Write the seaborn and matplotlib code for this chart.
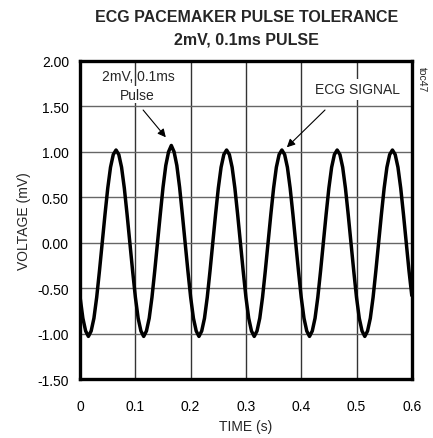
import numpy as np
import pandas as pd
import matplotlib
matplotlib.use("Agg")
import matplotlib.pyplot as plt
import seaborn as sns

# Time axis (s), sampled every 5 ms
time_s = [round(i * 0.005, 3) for i in range(121)]

# ECG signal (mV); pacemaker pulse peak near 0.165 s
voltage_mv = [
    -0.60, -0.83, -0.97, -1.03, -0.97, -0.83, -0.60, -0.31, 0.00, 0.31,
    0.60, 0.83, 0.97, 1.02, 0.97, 0.83, 0.60, 0.31, 0.00, -0.31,
    -0.60, -0.83, -0.97, -1.03, -0.97, -0.83, -0.60, -0.31, 0.00, 0.31,
    0.61, 0.85, 1.00, 1.07, 1.00, 0.85, 0.61, 0.31, 0.00, -0.31,
    -0.60, -0.83, -0.97, -1.03, -0.97, -0.83, -0.60, -0.31, 0.00, 0.31,
    0.60, 0.83, 0.97, 1.02, 0.97, 0.83, 0.60, 0.31, 0.00, -0.31,
    -0.60, -0.83, -0.97, -1.03, -0.97, -0.83, -0.60, -0.31, 0.00, 0.31,
    0.60, 0.83, 0.97, 1.02, 0.97, 0.83, 0.60, 0.31, 0.00, -0.31,
    -0.60, -0.83, -0.97, -1.03, -0.97, -0.83, -0.60, -0.31, 0.00, 0.31,
    0.60, 0.83, 0.97, 1.02, 0.97, 0.83, 0.60, 0.31, 0.00, -0.31,
    -0.60, -0.83, -0.97, -1.03, -0.97, -0.83, -0.60, -0.31, 0.00, 0.31,
    0.60, 0.83, 0.97, 1.02, 0.97, 0.83, 0.60, 0.31, 0.00, -0.31,
    -0.58,
]

x_ticks = [0, 0.1, 0.2, 0.3, 0.4, 0.5, 0.6]
x_labels = ["0", "0.1", "0.2", "0.3", "0.4", "0.5", "0.6"]
y_ticks = [-1.5, -1.0, -0.5, 0.0, 0.5, 1.0, 1.5, 2.0]
y_labels = ["-1.50", "-1.00", "-0.50", "0.00", "0.50", "1.00", "1.50", "2.00"]

df = pd.DataFrame({"time": time_s, "voltage": voltage_mv})

sns.set_style("white")
plt.rcParams['font.family'] = ['Liberation Sans', 'DejaVu Sans']

fig = plt.figure(figsize=(4.33, 4.39), dpi=100)
ax = fig.add_axes([0.185, 0.134, 0.766, 0.725])

sns.lineplot(x="time", y="voltage", data=df, ax=ax, color="black",
             linewidth=2.5, zorder=5)

ax.set_xlim(0, 0.6)
ax.set_ylim(-1.5, 2.0)
ax.set_xticks(x_ticks)
ax.set_xticklabels(x_labels)
ax.set_yticks(y_ticks)
ax.set_yticklabels(y_labels)
ax.tick_params(axis="x", length=0, labelsize=10, pad=14, colors="black")
ax.tick_params(axis="y", length=0, labelsize=10, pad=8, colors="black")

for x in x_ticks[1:-1]:
    ax.axvline(x, color="#333333", linewidth=1.0, zorder=1)
for y in y_ticks[1:-1]:
    ax.axhline(y, color="#666666", linewidth=1.0, zorder=1)

for s in ax.spines.values():
    s.set_visible(True)
    s.set_color("black")
    s.set_linewidth(2.4)

ax.set_xlabel("TIME (s)", fontsize=10)
ax.set_ylabel("VOLTAGE (mV)", fontsize=10)
ax.xaxis.set_label_coords(0.5, -0.125)
ax.yaxis.set_label_coords(-0.148, 0.5)

title_font = ["Liberation Sans Narrow", "Liberation Sans"]
fig.text(0.569, 0.959, "ECG PACEMAKER PULSE TOLERANCE", ha="center",
         va="center", fontsize=11.5, fontweight="bold", family=title_font)
fig.text(0.569, 0.909, "2mV, 0.1ms PULSE", ha="center",
         va="center", fontsize=11.5, fontweight="bold", family=title_font)

# pulse label and arrow
ax.text(0.105, 1.83, "2mV, 0.1ms", ha="center", va="center", fontsize=10, zorder=6)
ax.text(0.103, 1.63, "Pulse", ha="center", va="center", fontsize=10, zorder=6,
        bbox=dict(boxstyle="square,pad=0.1", fc="white", ec="none"))
ax.annotate("", xy=(0.155, 1.16), xytext=(0.114, 1.46), zorder=6,
            arrowprops=dict(arrowstyle="-|>", color="black", lw=0.8,
                            shrinkA=0, shrinkB=0, mutation_scale=12))

# ecg signal label and arrow
ax.text(0.502, 1.69, "ECG SIGNAL", ha="center", va="center", fontsize=10, zorder=6,
        bbox=dict(boxstyle="square,pad=0.25", fc="white", ec="none"))
ax.annotate("", xy=(0.374, 1.05), xytext=(0.443, 1.46), zorder=6,
            arrowprops=dict(arrowstyle="-|>", color="black", lw=0.8,
                            shrinkA=0, shrinkB=0, mutation_scale=12))

fig.text(0.974, 0.848, "toc47", rotation=-90, ha="center", va="top", fontsize=7.5)

fig.savefig("out.png", dpi=100)
